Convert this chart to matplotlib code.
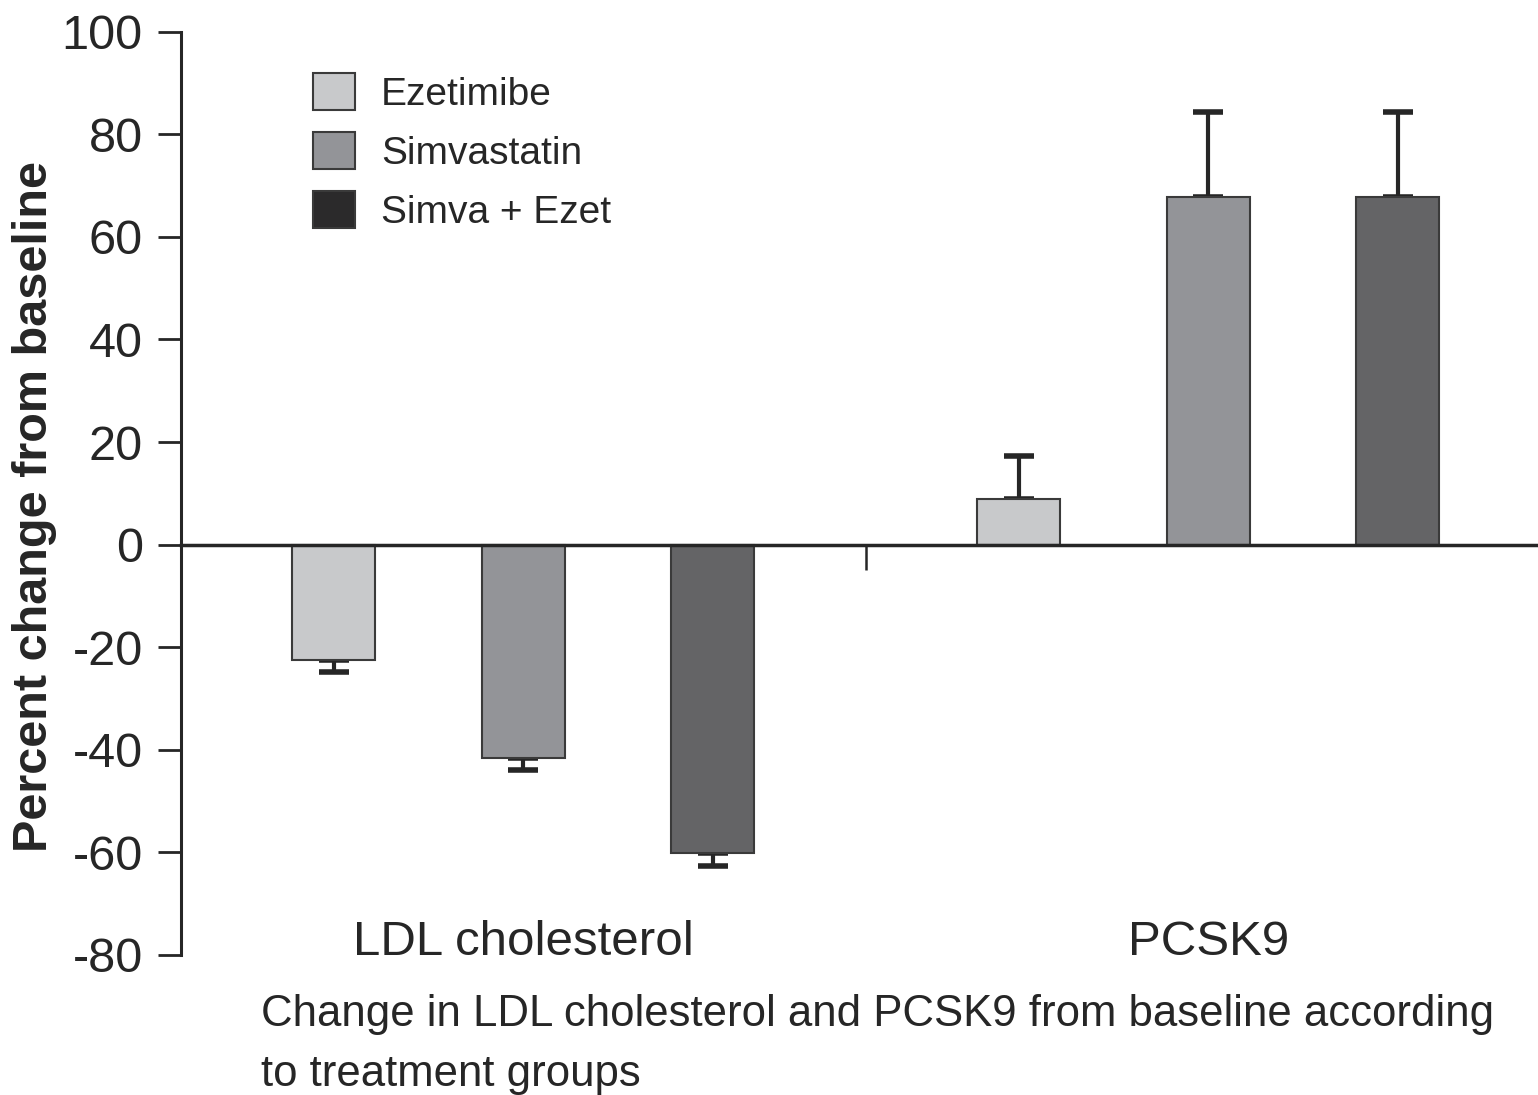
import matplotlib
matplotlib.use("Agg")
import matplotlib.pyplot as plt
from matplotlib.patches import Patch
import numpy as np

plt.rcParams['font.family'] = ['Liberation Sans', 'DejaVu Sans']

groups = ["LDL cholesterol", "PCSK9"]
treatments = ["Ezetimibe", "Simvastatin", "Simva + Ezet"]
values = {
    "Ezetimibe":    [-22.4, 8.9],
    "Simvastatin":  [-41.6, 67.8],
    "Simva + Ezet": [-60.1, 67.8],
}
errors = {
    "Ezetimibe":    [2.4, 8.3],
    "Simvastatin":  [2.4, 16.6],
    "Simva + Ezet": [2.5, 16.6],
}
bar_colors = ["#c8c9cb", "#939498", "#646466"]
legend_colors = ["#c8c9cb", "#939498", "#2b2a2b"]
yticks = [-80, -60, -40, -20, 0, 20, 40, 60, 80, 100]
caption = ["Change in LDL cholesterol and PCSK9 from baseline according",
           "to treatment groups"]

W, H = 1538, 1095
fig = plt.figure(figsize=(W / 100, H / 100), dpi=100)
ax = fig.add_axes([181 / W, 1 - 955 / H, 1 - 181 / W, (955 - 31.7) / H])

group_gap = 3.615
width = 0.438
gx = np.arange(len(groups)) * group_gap
for k, (t, c) in enumerate(zip(treatments, bar_colors)):
    x = gx + (k - 1)
    v = np.array(values[t])
    e = np.array(errors[t])
    lower = np.where(v < 0, e, 0)
    upper = np.where(v > 0, e, 0)
    ax.bar(x, v, width=width, color=c, edgecolor="#3a3a3a", linewidth=1.5, zorder=2)
    ax.errorbar(x, v, yerr=[lower, upper], fmt="none", ecolor="#262626",
                elinewidth=3, capsize=11, capthick=4, zorder=1)

ax.set_xlim(-group_gap / 2, 1015 / 189.5)
ax.set_ylim(-80, 100)
ax.set_yticks(yticks)
ax.set_yticklabels([str(v) for v in yticks], fontsize=35, color="#262626")
ax.tick_params(axis="y", direction="out", length=16.5, width=2, pad=11, color="#262626")

ax.spines["top"].set_visible(False)
ax.spines["right"].set_visible(False)
ax.spines["left"].set_linewidth(2.2)
ax.spines["left"].set_color("#262626")
ax.spines["bottom"].set_position(("data", 0))
ax.spines["bottom"].set_linewidth(2.5)
ax.spines["bottom"].set_color("#262626")
ax.spines["bottom"].set_zorder(3)
ax.set_xticks([group_gap / 2])
ax.set_xticklabels([""])
ax.tick_params(axis="x", direction="out", length=18, width=1.8, color="#262626")

for g, x in zip(groups, gx):
    ax.text(x, -80, g, ha="center", va="baseline", fontsize=35.5, color="#262626")

fig.text(35 / W, 1 - 507 / H, "Percent change from baseline", rotation=90,
         ha="center", va="center", fontsize=35, fontweight="bold", color="#262626")

fig.text(261 / W, 1 - 1026 / H, caption[0], ha="left", va="baseline", fontsize=31.5, color="#262626")
fig.text(261 / W, 1 - 1086 / H, caption[1], ha="left", va="baseline", fontsize=31.5, color="#262626")

handles = [Patch(facecolor=c, edgecolor="#3a3a3a", linewidth=1.5, label=t)
           for t, c in zip(treatments, legend_colors)]
ax.legend(handles=handles, loc="upper left", bbox_to_anchor=(313 / W, 1 - 73 / H),
          bbox_transform=fig.transFigure, frameon=False, fontsize=28,
          handlelength=1.07, handleheight=1.07, handletextpad=0.68,
          labelspacing=0.5, borderpad=0, borderaxespad=0, labelcolor="#262626")

fig.savefig("out.png", dpi=100)
